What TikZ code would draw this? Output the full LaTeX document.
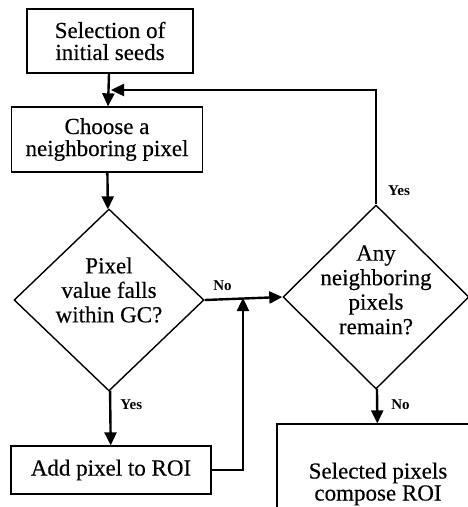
\documentclass[tikz,border=0pt]{standalone}
\usepackage{fontspec}
\setmainfont{Liberation Serif}
\newfontfamily\flowfont{Liberation Serif}[FakeBold=0.35]
\usetikzlibrary{shapes.geometric,arrows.meta}
\begin{document}
\begin{tikzpicture}[x=1pt,y=-1pt,
  stepbox/.style={draw,line width=1.3pt,align=center,inner sep=0pt,font=\flowfont\fontsize{23}{22}\selectfont},
  decision/.style={draw,diamond,line width=1.4pt,inner sep=0pt},
  dtext/.style={align=center,font=\flowfont\fontsize{23}{24.5}\selectfont},
  arr/.style={line width=2.4pt,-{Triangle[length=13pt,width=12pt]}},
  answer/.style={font=\bfseries\fontsize{15}{15}\selectfont,inner sep=0pt}]
  \useasboundingbox (0,0) rectangle (468,507);
  \clip (0,0) rectangle (468,507);
  \node[stepbox,minimum width=166pt,minimum height=64pt] (seeds) at (110,41) {Selection of\\initial seeds};
  \node[stepbox,minimum width=191pt,minimum height=65pt] (choose) at (107,139.5) {Choose a\\neighboring pixel};
  \node[decision,minimum width=190pt,minimum height=182pt] (gc) at (109,300) {};
  \node[dtext] (gctext) at (109,290) {Pixel\\value falls\\within GC?};
  \node[stepbox,minimum width=200pt,minimum height=48pt] (add) at (111,470) {Add pixel to ROI};
  \node[decision,minimum width=186pt,minimum height=184pt] (remain) at (376,297) {};
  \node[dtext] (remaintext) at (376,290) {Any\\neighboring\\pixels\\remain?};
  \node[stepbox,minimum width=202pt,minimum height=120pt] (final) at (378,484) {Selected pixels\\compose ROI};
  \coordinate (join) at (243,298);
  \coordinate (back) at (111,90);
  \draw[arr] (seeds) -- (choose);
  \draw[arr] (choose) -- (gc);
  \draw[arr] (gc) -- node[answer,right=9pt,pos=0.25] (yesadd) {Yes} (add);
  \draw[arr] (gc.east) -- node[answer,above=7pt,pos=0.23] (nomove) {No} (remain.west);
  \draw[arr] (add.east) -| (join);
  \draw[arr] (remain) -- node[answer,right=13pt,pos=0.45] (nofinal) {No} (final);
  \draw[arr] (remain.north) |- node[answer,right=11pt,pos=0.06] (yesloop) {Yes} (back);
\end{tikzpicture}
\end{document}
